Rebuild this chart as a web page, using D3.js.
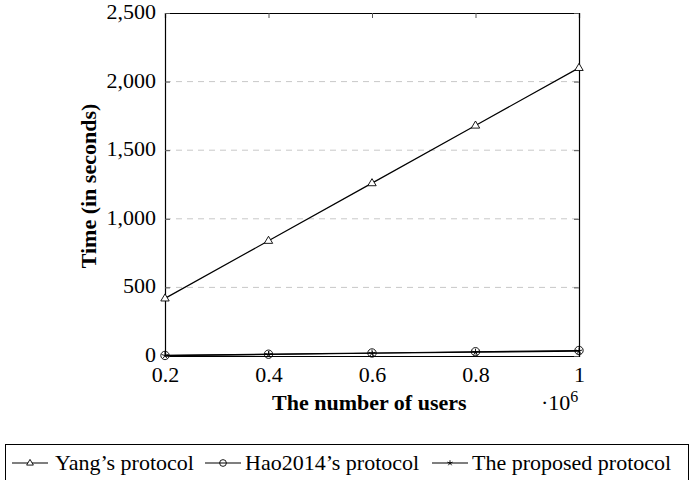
<!DOCTYPE html>
<html>
<head>
<meta charset="utf-8">
<script src="https://cdn.jsdelivr.net/npm/d3@7"></script>
<style>
  body { margin: 0; background: #fff; }
  text { font-family: "Liberation Serif", "DejaVu Serif", serif; }
</style>
</head>
<body>
<svg id="chart" width="690" height="480"></svg>
<script>
const users = [0.2, 0.4, 0.6, 0.8, 1];
const yang = [420, 840, 1260, 1680, 2100];
const hao = [4, 13, 22, 31, 40];
const proposed = [3, 11, 20, 28, 36];
const xTicks = [0.2, 0.4, 0.6, 0.8, 1];
const yTicks = [0, 500, 1000, 1500, 2000, 2500];
const seriesNames = ["Yang\u2019s protocol", "Hao2014\u2019s protocol", "The proposed protocol"];

function drawChart() {
    const svg = d3.select("#chart");
    const left = 165, right = 579, top = 13, bottom = 356;

    const x = d3.scaleLinear().domain([0.2, 1]).range([left, right]);
    const y = d3.scaleLinear().domain([0, 2500]).range([bottom, top]);

    // grid
    svg.append("g")
        .selectAll("line")
        .data(yTicks.filter((d) => d > 0 && d < 2500))
        .join("line")
        .attr("x1", left).attr("x2", right)
        .attr("y1", (d) => y(d)).attr("y2", (d) => y(d))
        .attr("stroke", "#c8c8c8")
        .attr("stroke-width", 1)
        .attr("stroke-dasharray", "6,5");

    // axes, ticks pointing inside
    const fmt = d3.format(",");
    const xAx = svg.append("g")
        .attr("transform", `translate(0,${bottom})`)
        .call(d3.axisBottom(x).tickValues(xTicks).tickSize(-5).tickPadding(10).tickFormat((d) => d === 1 ? "1" : d3.format(".1f")(d)));
    const xTop = svg.append("g")
        .attr("transform", `translate(0,${top})`)
        .call(d3.axisTop(x).tickValues(xTicks).tickSize(-5).tickFormat(""));
    const yAx = svg.append("g")
        .attr("transform", `translate(${left},0)`)
        .call(d3.axisLeft(y).tickValues(yTicks).tickSize(-5).tickPadding(9).tickFormat(fmt));
    const yRight = svg.append("g")
        .attr("transform", `translate(${right},0)`)
        .call(d3.axisRight(y).tickValues(yTicks).tickSize(-5).tickFormat(""));

    [xAx, xTop, yAx, yRight].forEach((a) => {
        a.select(".domain").attr("stroke", "#000").attr("stroke-width", 1.2);
        a.selectAll(".tick line").attr("stroke", "#555");
        a.selectAll("text")
            .attr("fill", "#000")
            .style("font-family", "Liberation Serif")
            .style("font-size", "22px");
    });
    yAx.selectAll("text").attr("dy", "0.25em");

    // lines
    const line = d3.line().x((d) => x(d[0])).y((d) => y(d[1]));
    const allSeries = [yang, hao, proposed];
    allSeries.forEach((vals) => {
        svg.append("path")
            .datum(users.map((u, i) => [u, vals[i]]))
            .attr("fill", "none")
            .attr("stroke", "#000")
            .attr("stroke-width", 1.2)
            .attr("d", line);
    });

    function marker(g, kind, cx, cy, sc) {
        if (kind === 0) {
            g.append("path")
                .attr("d", `M${cx},${cy - 4.5 * sc}L${cx + 4.2 * sc},${cy + 2.6 * sc}L${cx - 4.2 * sc},${cy + 2.6 * sc}Z`)
                .attr("fill", "#fff").attr("stroke", "#000").attr("stroke-width", 0.9);
        } else if (kind === 1) {
            g.append("circle").attr("cx", cx).attr("cy", cy).attr("r", 4.2 * sc)
                .attr("fill", "none").attr("stroke", "#000").attr("stroke-width", 0.9);
        } else {
            for (let k = 0; k < 5; k++) {
                const a = -Math.PI / 2 + k * 2 * Math.PI / 5;
                g.append("line")
                    .attr("x1", cx).attr("y1", cy)
                    .attr("x2", cx + 3.5 * sc * Math.cos(a)).attr("y2", cy + 3.5 * sc * Math.sin(a))
                    .attr("stroke", "#000").attr("stroke-width", 0.9);
            }
        }
    }

    const mk = svg.append("g");
    allSeries.forEach((vals, s) => {
        users.forEach((u, i) => marker(mk, s, x(u), y(vals[i]), 1));
    });

    // axis titles
    svg.append("text")
        .attr("x", 272).attr("y", 410)
        .style("font-size", "22px").style("font-weight", "bold")
        .text("The number of users");

    const mult = svg.append("text")
        .attr("x", 541).attr("y", 410)
        .style("font-size", "22px");
    mult.append("tspan").text("\u00b710");
    mult.append("tspan").attr("dy", -8).style("font-size", "16px").text("6");

    svg.append("text")
        .attr("transform", `translate(96,186) rotate(-90)`)
        .attr("text-anchor", "middle")
        .style("font-size", "22px").style("font-weight", "bold")
        .text("Time (in seconds)");

    // legend
    const lg = svg.append("g");
    lg.append("rect")
        .attr("x", 5.5).attr("y", 444.5).attr("width", 683).attr("height", 44)
        .attr("fill", "#fff").attr("stroke", "#000").attr("stroke-width", 1);

    const legendX = [12, 205, 432];
    const textX = [55, 245, 472];
    seriesNames.forEach((name, s) => {
        const lx = legendX[s];
        lg.append("line")
            .attr("x1", lx).attr("x2", lx + 36).attr("y1", 463).attr("y2", 463)
            .attr("stroke", "#000").attr("stroke-width", 1.2);
        marker(lg, s, lx + 18, 463, 0.8);
        lg.append("text")
            .attr("x", textX[s]).attr("y", 470)
            .style("font-size", "22px")
            .text(name);
    });
}

drawChart();
</script>
</body>
</html>
